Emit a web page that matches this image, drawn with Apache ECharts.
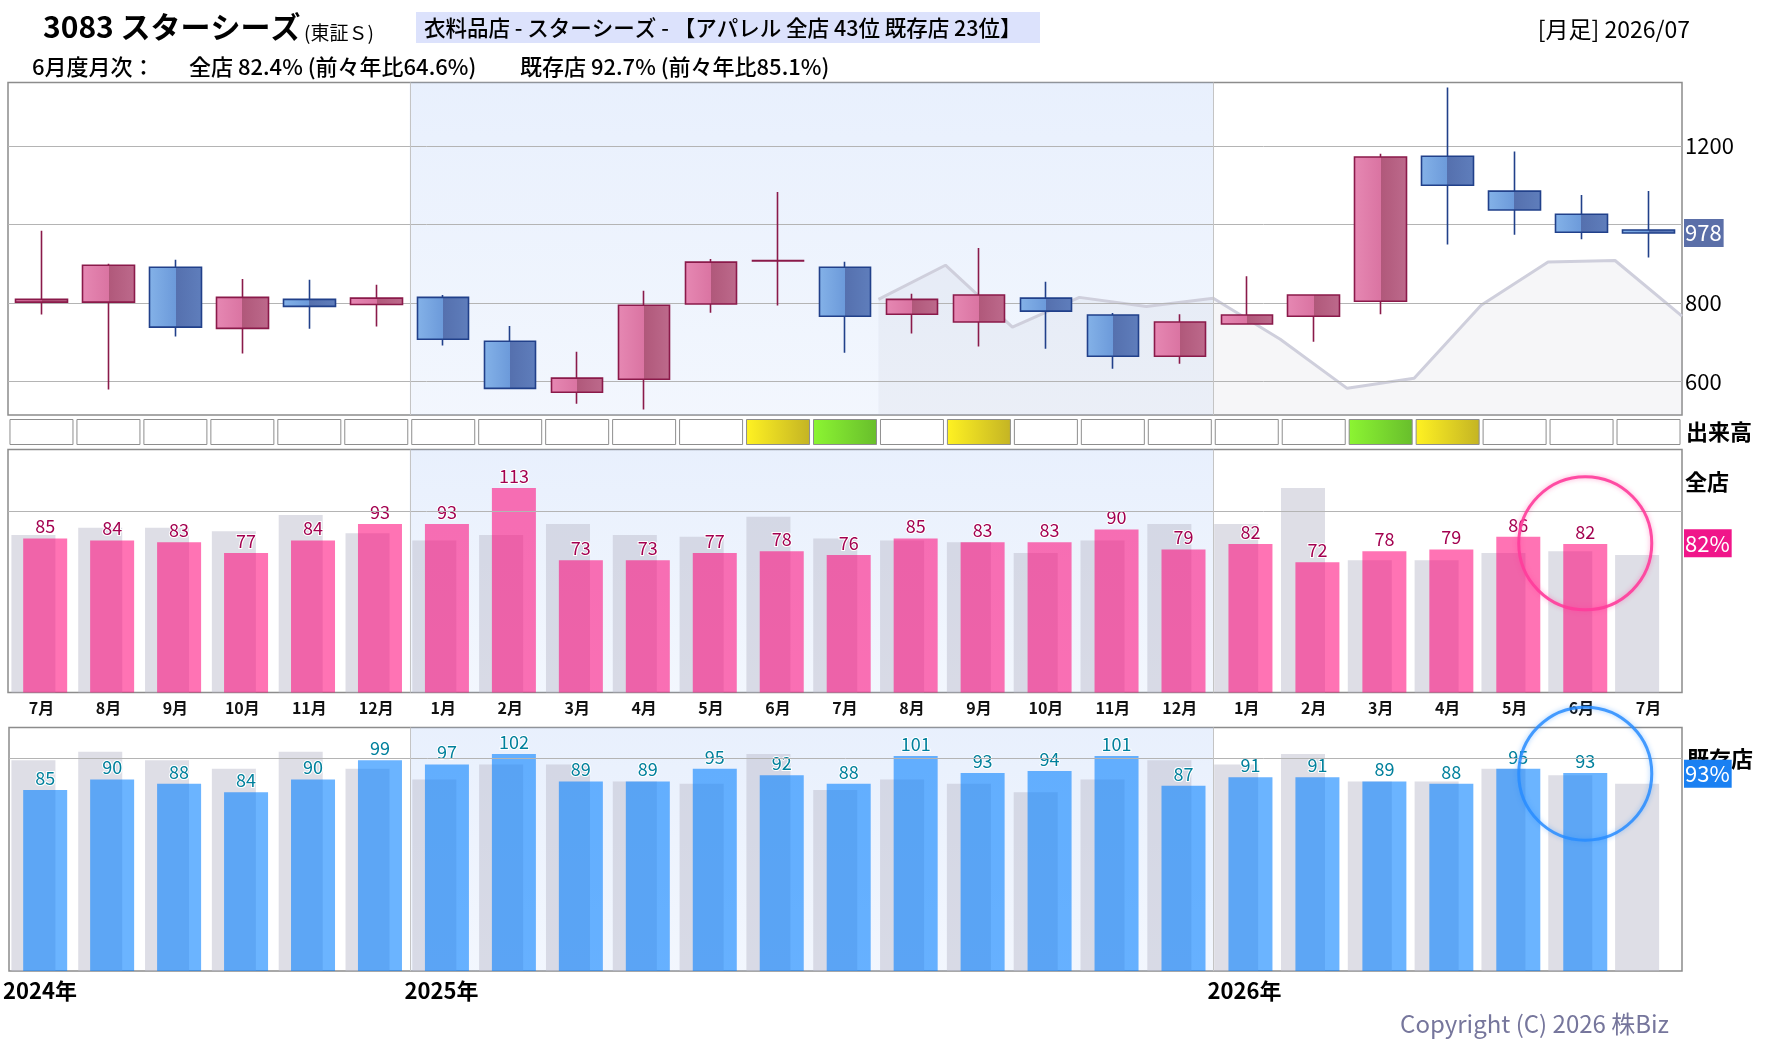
<!DOCTYPE html>
<html><head><meta charset="utf-8">
<script src="https://cdn.jsdelivr.net/npm/echarts@6/dist/echarts.min.js"></script>
<style>html,body{margin:0;padding:0;background:#fff}#c{width:1780px;height:1054px}</style>
</head><body><div id="c"></div>
<script>
const FF = '"Noto Sans CJK JP","Noto Sans",sans-serif';

// ---- data ----
const months = ['2024/07','2024/08','2024/09','2024/10','2024/11','2024/12','2025/01','2025/02','2025/03','2025/04','2025/05','2025/06','2025/07','2025/08','2025/09','2025/10','2025/11','2025/12','2026/01','2026/02','2026/03','2026/04','2026/05','2026/06','2026/07'];
const monthLabels = ['7月','8月','9月','10月','11月','12月','1月','2月','3月','4月','5月','6月','7月','8月','9月','10月','11月','12月','1月','2月','3月','4月','5月','6月','7月'];
const yearLabels = ['2024年','2025年','2026年'];
const yearStartIdx = [0, 6, 18];

const candleOpen  = [802, 802, 891, 735, 809, 796, 814, 702, 572, 605, 797, 907, 891, 771, 751, 812, 769, 664, 746, 766, 804, 1174, 1085, 1026, 986];
const candleClose = [809, 896, 738, 814, 791, 812, 707, 582, 608, 794, 904, 908, 766, 809, 820, 779, 664, 751, 769, 820, 1172, 1100, 1037, 980, 978];
const candleLow   = [770, 579, 714, 671, 734, 740, 691, 582, 543, 528, 775, 793, 673, 722, 689, 683, 632, 645, 746, 701, 771, 949, 974, 962, 916];
const candleHigh  = [984, 900, 910, 861, 859, 846, 820, 741, 675, 831, 912, 1083, 905, 823, 940, 854, 774, 771, 868, 820, 1180, 1349, 1186, 1075, 1085];
const priceTicks = [600, 800, 1000, 1200];
const hiddenPriceTicks = [1000];

const volumeLevel = [0,0,0,0,0,0,0,0,0,0,0,1,2,0,1,0,0,0,0,0,2,1,0,0,0];

const allStore      = [85,84,83,77,84,93,93,113,73,73,77,78,76,85,83,83,90,79,82,72,78,79,86,82,null];
const allStorePrev  = [87,91,91,89,98,88,84,87,93,87,86,97,85,84,83,77,84,93,93,113,73,73,77,78,76];
const existStore     = [85,90,88,84,90,99,97,102,89,89,95,92,88,101,93,94,101,87,91,91,89,88,95,93,null];
const existStorePrev = [99,103,99,95,103,95,90,97,97,89,88,102,85,90,88,84,90,99,97,102,89,89,95,92,88];
const latestAll = 82.4, latestExist = 92.7;
const latestIdx = 23;
const barTicks = [100];

// ---- layout ----
const L = 8, W = 1674;
const GRAY_SHIFT = -11.5, FRONT_SHIFT = 3.7;
const PC = {top:82.5, h:332.5}, PV = {top:419, h:26}, PM = {top:449.5, h:243}, PB = {top:727.5, h:243.5};
const border = {show:true, borderColor:'#8c8c8c', borderWidth:1.5, backgroundColor:'#fff'};

const grids = [
  Object.assign({left:L, top:PC.top, width:W, height:PC.h}, border),
  {left:L, top:PV.top, width:W, height:PV.h},
  Object.assign({left:L, top:PM.top, width:W, height:PM.h}, border),
  {left:L+GRAY_SHIFT, top:PM.top, width:W, height:PM.h},
  {left:L+FRONT_SHIFT, top:PM.top, width:W, height:PM.h},
  Object.assign({left:L, top:PB.top, width:W, height:PB.h}, border),
  {left:L+GRAY_SHIFT, top:PB.top, width:W, height:PB.h},
  {left:L+FRONT_SHIFT, top:PB.top, width:W, height:PB.h}
];
const cat = (g, extra) => Object.assign({type:'category', gridIndex:g, data:months, show:false}, extra || {});
const val = (g, extra) => Object.assign({type:'value', gridIndex:g, min:0, max:months.length, show:false}, extra || {});

const xAxis = [
  cat(0), val(0), cat(1),
  cat(2, {show:true, axisLine:{show:false}, axisTick:{show:false},
    axisLabel:{interval:0, formatter:(v,i)=>monthLabels[i], color:'#111', fontSize:16, fontWeight:'bold', fontFamily:FF, margin:7}}),
  val(2), cat(3), cat(4),
  val(5, {show:true, interval:1, axisLine:{show:false}, axisTick:{show:false}, splitLine:{show:false},
    axisLabel:{formatter:v=>{const k=yearStartIdx.indexOf(v);return k>=0?yearLabels[k]:'';}, align:'left',
      fontSize:22, fontWeight:'bold', color:'#000', fontFamily:FF, margin:9, padding:[0,0,0,-6], showMinLabel:true, showMaxLabel:true}}),
  cat(6), cat(7)
];
const yv = (g, mn, mx) => ({type:'value', gridIndex:g, min:mn, max:mx, show:false});
const yAxis = [yv(0,514,1362), yv(1,0,1), yv(2,0,134.2), yv(3,0,134.2), yv(4,0,134.2), yv(5,0,114.4), yv(6,0,114.4), yv(7,0,114.4)];

const bandColor = () => new echarts.graphic.LinearGradient(0,0,0,1,[{offset:0,color:'rgba(171,199,247,0.27)'},{offset:1,color:'rgba(171,199,247,0.15)'}]);
const helperBand = (xi, yi) => ({type:'line', xAxisIndex:xi, yAxisIndex:yi, data:[], z:1, silent:true,
  markArea:{silent:true, itemStyle:{color:bandColor()}, data:[[{xAxis:yearStartIdx[1]},{xAxis:yearStartIdx[2]}]]}});
const helperLines = (xi, yi, ticks, hidden, extra) => ({type:'line', xAxisIndex:xi, yAxisIndex:yi, data:[], z:4, silent:true,
  markLine:{silent:true, symbol:['none','none'], animation:false,
    lineStyle:{color:'#b4b4b4', width:1, type:'solid'},
    label:{position:'end', distance:3, color:'#000', fontSize:22, fontFamily:FF},
    data: ticks.map(v=>({yAxis:v, label:{show:!hidden.includes(v), formatter:String(v)}}))
      .concat(yearStartIdx.slice(1).map(x=>({xAxis:x, lineStyle:{color:'#c4c4c4'}, label:{show:false}})))
      .concat(extra || [])}});
const tag = (v, text, bg) => ({yAxis:v, lineStyle:{color:'rgba(0,0,0,0)', width:0},
  label:{show:true, formatter:text, color:'#fff', backgroundColor:bg, fontSize:22, fontFamily:FF, padding:[4,2,2,1], distance:2}});

const pinkGrad = new echarts.graphic.LinearGradient(0,0,1,0,[{offset:0,color:'#E688B3'},{offset:0.5,color:'#DA74A2'},{offset:0.5,color:'#B0587A'},{offset:1,color:'#BD6A8C'}]);
const blueGrad = new echarts.graphic.LinearGradient(0,0,1,0,[{offset:0,color:'#84B2E8'},{offset:0.5,color:'#6C9ADA'},{offset:0.5,color:'#5570AE'},{offset:1,color:'#5F7EBC'}]);
const volFill = l => l === 1
  ? new echarts.graphic.LinearGradient(0,0,1,0,[{offset:0,color:'#FFF222'},{offset:1,color:'#C4B424'}])
  : l === 2 ? new echarts.graphic.LinearGradient(0,0,1,0,[{offset:0,color:'#8CF532'},{offset:1,color:'#68BE2C'}])
  : '#ffffff';
const last = months.length - 1;

const series = [
  helperBand(1, 0),
  {type:'line', xAxisIndex:1, yAxisIndex:0, z:2, silent:true, symbol:'none',
   data: candleClose.slice(0, 13).map((c, i) => [i + 13, c]),
   lineStyle:{color:'#CFCFDC', width:3}, areaStyle:{color:'rgba(180,180,199,0.17)', origin:'start'}},
  helperLines(1, 0, priceTicks, hiddenPriceTicks, [tag(candleClose[last], String(candleClose[last]), '#5B6FA8')]),
  {type:'candlestick', xAxisIndex:0, yAxisIndex:0, z:5, barWidth:52, silent:true,
   data: months.map((m, i) => [candleOpen[i], candleClose[i], candleLow[i], candleHigh[i]]),
   itemStyle:{color:pinkGrad, color0:blueGrad, borderColor:'#8A1A4A', borderColor0:'#21408A', borderWidth:1.6}},
  {type:'bar', xAxisIndex:2, yAxisIndex:1, barWidth:64, silent:true,
   data: volumeLevel.map(l => ({value:1, itemStyle:{color:volFill(l)}})),
   itemStyle:{borderColor:'#8e8e8e', borderWidth:1}},
  // middle (全店)
  helperBand(4, 2),
  helperLines(4, 2, barTicks, barTicks, [tag(latestAll, Math.round(latestAll)+'%', '#F0168A')]),
  {type:'bar', xAxisIndex:5, yAxisIndex:3, z:2, barWidth:44, silent:true, data:allStorePrev,
   itemStyle:{color:'rgba(190,190,206,0.5)'}},
  {type:'bar', xAxisIndex:6, yAxisIndex:4, z:3, barWidth:44, silent:true, data:allStore,
   itemStyle:{color:'rgba(255,0,119,0.55)'},
   label:{show:true, position:'top', distance:3, color:'#A3004F', fontSize:18, fontFamily:FF, textBorderColor:'#fff', textBorderWidth:2},
   markPoint:{silent:true, symbol:'circle', symbolSize:133, label:{show:false},
     itemStyle:{color:'rgba(0,0,0,0)', borderColor:'rgba(255,60,155,0.9)', borderWidth:3, shadowBlur:5, shadowColor:'rgba(255,60,155,0.5)'},
     data:[{coord:[latestIdx, latestAll]}]}},
  // bottom (既存店)
  helperBand(7, 5),
  helperLines(7, 5, barTicks, barTicks, [tag(latestExist, Math.round(latestExist)+'%', '#1A80F2')]),
  {type:'bar', xAxisIndex:8, yAxisIndex:6, z:2, barWidth:44, silent:true, data:existStorePrev,
   itemStyle:{color:'rgba(190,190,206,0.5)'}},
  {type:'bar', xAxisIndex:9, yAxisIndex:7, z:3, barWidth:44, silent:true, data:existStore,
   itemStyle:{color:'rgba(0,126,255,0.58)'},
   label:{show:true, position:'top', distance:3, color:'#00809C', fontSize:18, fontFamily:FF, textBorderColor:'#fff', textBorderWidth:2},
   markPoint:{silent:true, symbol:'circle', symbolSize:133, label:{show:false},
     itemStyle:{color:'rgba(0,0,0,0)', borderColor:'rgba(40,140,255,0.85)', borderWidth:3, shadowBlur:5, shadowColor:'rgba(40,140,255,0.5)'},
     data:[{coord:[latestIdx, latestExist]}]}}
];

const txt = (x, y, text, font, extra) => ({type:'text', x:x, y:y, z:1, silent:true,
  style:Object.assign({text:text, font:font + ' ' + FF, fill:'#000', textVerticalAlign:'middle'}, extra || {})});

const graphic = [
  txt(43, 27, '3083 スターシーズ', 'bold 30px'),
  txt(304, 33, '(東証Ｓ)', '19px'),
  {type:'rect', z:0, silent:true, shape:{x:416, y:12, width:624, height:31}, style:{fill:'#DCE2FC'}},
  txt(424, 28, '衣料品店 - スターシーズ - 【アパレル 全店 43位 既存店 23位】', '500 21.5px'),
  txt(1690, 29, '[月足] 2026/07', '23px', {textAlign:'right'}),
  txt(32, 67, '6月度月次：', '500 22px'),
  txt(189, 67, '全店 82.4% (前々年比64.6%)', '500 22px'),
  txt(520, 67, '既存店 92.7% (前々年比85.1%)', '500 22px'),
  txt(1686, 432, '出来高', 'bold 22px'),
  txt(1685, 482, '全店', 'bold 22px'),
  txt(1687, 759, '既存店', 'bold 22px'),
  txt(1669, 1024, 'Copyright (C) 2026 株Biz', '24px', {textAlign:'right', fill:'#76769C'})
];

const chart = echarts.init(document.getElementById('c'), null, {renderer:'canvas'});
chart.setOption({animation:false, backgroundColor:'#fff', grid:grids, xAxis:xAxis, yAxis:yAxis, series:series, graphic:graphic});
</script>
</body></html>
